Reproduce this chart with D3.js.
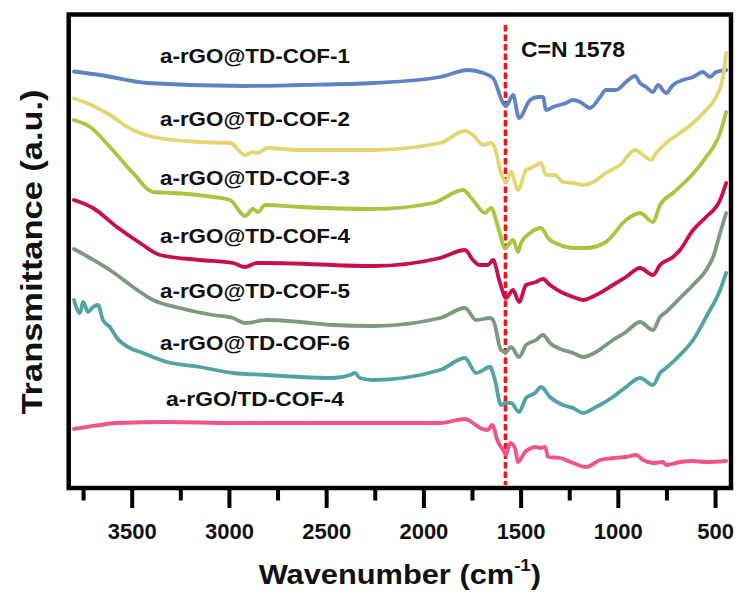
<!DOCTYPE html>
<html>
<head>
<meta charset="utf-8">
<script src="https://cdn.jsdelivr.net/npm/d3@7"></script>
<style>
  body { margin: 0; background: #fff; }
  text { font-family: Arial, "Liberation Sans", sans-serif; font-weight: bold; fill: #111; }
</style>
</head>
<body>
<svg id="chart" width="746" height="603"></svg>
<script>
'use strict';

// wavenumbers (cm-1) and transmittance (a.u., offset per curve)
const wn1 = [3797,3663,3421,2928,2634,2259,1914,1770,1693,1642,1590,1575,1539,1508,1451,1410,1385,1369,1333,1266,1230,1194,1143,1091,1061,1009,958,911,886,855,819,793,752,716,665,613,562,526,495,443];
const t1 = [83.3,82.6,81.0,80.4,80.6,81.0,82.2,83.6,83.0,82.0,77.0,76.4,78.6,74.0,77.6,78.2,78.2,75.6,76.2,77.0,77.6,77.2,76.0,78.2,79.6,79.6,81.2,82.4,81.0,80.2,79.2,80.6,79.0,80.6,81.6,82.2,83.2,82.2,83.2,83.6];

const wn2 = [3797,3731,3629,3493,3390,3149,2994,2917,2876,2850,2804,2634,2259,1914,1786,1745,1693,1652,1632,1601,1575,1549,1513,1472,1436,1395,1369,1323,1282,1230,1179,1127,1061,989,911,870,829,803,752,680,613,546,495,459,443];
const t2 = [77.9,77.0,75.0,71.6,70.2,69.2,69.0,66.6,67.2,67.0,68.0,67.6,67.6,69.0,71.4,70.6,68.6,69.0,68.0,63.0,61.2,63.2,59.6,63.6,64.2,65.0,62.6,62.6,61.2,61.0,60.6,61.2,63.0,64.6,67.6,66.6,65.6,67.0,69.0,71.0,73.0,75.6,78.2,82.2,87.0];

const wn3 = [3797,3714,3612,3493,3390,3288,3082,2994,2917,2876,2850,2814,2634,2259,1950,1796,1745,1683,1652,1616,1580,1539,1513,1498,1451,1395,1359,1297,1230,1163,1061,958,886,819,783,716,629,546,474,443];
const t3 = [73.6,72.2,68.2,63.0,59.2,59.0,58.2,57.6,54.4,55.8,55.2,56.6,56.2,55.8,57.0,59.6,57.6,55.0,56.0,52.2,48.0,49.6,47.2,49.0,51.0,52.0,50.0,48.6,48.0,48.0,49.2,53.6,55.0,53.2,56.6,59.0,62.2,66.2,71.0,75.2];

const wn4 = [3797,3699,3576,3457,3354,3149,2979,2917,2856,2804,2259,1914,1786,1745,1709,1668,1642,1606,1575,1539,1508,1472,1421,1385,1349,1282,1230,1179,1112,1025,958,886,819,783,716,680,613,546,474,443];
const t4 = [57.6,56.0,52.2,49.0,46.6,45.6,45.0,44.2,45.0,45.0,44.4,46.0,47.6,45.6,44.6,44.6,45.6,41.0,38.0,39.6,37.2,40.6,41.2,41.8,40.6,39.0,38.2,37.6,38.6,40.6,42.2,44.0,42.6,44.6,46.2,47.6,51.6,54.2,57.6,61.0];

const wn5 = [3797,3714,3612,3493,3390,3252,3082,2979,2917,2804,2634,2465,2259,1914,1786,1729,1657,1637,1601,1575,1549,1508,1472,1421,1385,1349,1282,1230,1179,1112,1025,958,886,819,783,752,680,613,546,510,474,443];
const t5 = [47.8,46.0,43.6,40.2,37.6,36.0,34.6,34.0,33.0,33.6,33.2,32.6,32.4,34.0,36.0,33.6,34.0,33.2,27.6,27.2,28.2,26.2,28.6,29.6,30.6,29.0,27.6,27.0,26.2,27.2,29.6,31.2,33.2,31.6,34.2,35.2,38.0,40.6,43.6,46.2,51.0,55.0];

const wn6 = [3797,3766,3750,3725,3699,3673,3648,3612,3576,3509,3442,3318,3149,2979,2804,2634,2465,2377,2352,2326,2259,1914,1786,1729,1657,1632,1601,1575,1549,1508,1472,1426,1395,1349,1282,1230,1179,1112,1025,958,886,819,783,752,680,613,546,474,443];
const t6 = [37.6,35.0,37.2,35.2,36.2,36.6,33.6,32.2,30.0,28.0,27.0,25.2,24.2,23.0,22.6,22.2,22.0,22.6,23.0,22.0,21.6,23.6,26.0,23.0,24.2,21.6,16.6,17.0,17.0,15.2,18.0,19.0,20.2,18.2,16.6,16.0,15.0,16.2,18.2,20.2,22.0,20.6,23.0,24.0,26.6,29.6,34.2,39.6,43.0];

const wn7 = [3797,3731,3576,3318,2979,2634,2259,1914,1786,1745,1709,1668,1647,1616,1590,1575,1554,1529,1513,1477,1421,1400,1374,1359,1297,1230,1163,1091,1025,958,906,870,819,767,752,680,613,546,443];
const t7 = [11.8,12.2,13.0,13.2,13.0,13.0,13.0,13.0,13.8,13.0,12.0,11.6,12.6,9.2,7.6,6.6,9.0,8.0,5.2,7.2,8.2,8.0,8.2,6.2,6.0,5.0,4.2,5.6,6.0,6.2,6.6,5.6,5.0,5.2,4.6,5.2,5.4,5.2,5.4];

const seriesNames = ['a-rGO@TD-COF-1','a-rGO@TD-COF-2','a-rGO@TD-COF-3','a-rGO@TD-COF-4','a-rGO@TD-COF-5','a-rGO@TD-COF-6','a-rGO/TD-COF-4'];
const seriesColors = ['#5f83c4','#e3d672','#a9c541','#c90d4f','#7e9980','#52a3a3','#f2538d'];
const labelT = [85.0, 72.4, 60.6, 49.0, 38.0, 27.6, 16.4];
const labelWn = 2866;

const majorTicks = [3500, 3000, 2500, 2000, 1500, 1000, 500];
const minorTicks = [3750, 3250, 2750, 2250, 1750, 1250, 750];
const peakWn = 1578;
const peakLabel = 'C=N 1578';

const wnList = [wn1, wn2, wn3, wn4, wn5, wn6, wn7];
const tList = [t1, t2, t3, t4, t5, t6, t7];
const series = seriesNames.map(function (name, i) {
  return {
    name: name,
    color: seriesColors[i],
    points: wnList[i].map(function (w, j) { return [w, tList[i][j]]; })
  };
});

const frame = { left: 68.7, top: 14.5, right: 731, bottom: 488 };
const svg = d3.select('#chart');

const xScale = d3.scaleLinear()
  .domain([3824, 418])
  .range([frame.left, frame.right]);

const yScale = d3.scaleLinear()
  .domain([0, 95])
  .range([frame.bottom, frame.bottom - 475]);

const line = d3.line()
  .curve(d3.curveMonotoneX)
  .x(function (d) { return xScale(d[0]); })
  .y(function (d) { return yScale(d[1]); });

// minor ticks
svg.append('g')
  .attr('transform', `translate(0, ${frame.bottom})`)
  .call(d3.axisBottom(xScale).tickValues(minorTicks).tickSize(12.5).tickFormat(''))
  .call(function (g) { g.select('.domain').remove(); })
  .selectAll('line')
  .attr('stroke', '#000')
  .attr('stroke-width', 4);

// major ticks
const xAxisG = svg.append('g')
  .attr('transform', `translate(0, ${frame.bottom})`)
  .call(d3.axisBottom(xScale).tickValues(majorTicks).tickSize(20).tickFormat(d3.format('d')));
xAxisG.select('.domain').remove();
xAxisG.selectAll('line').attr('stroke', '#000').attr('stroke-width', 4);
xAxisG.selectAll('text')
  .attr('y', 51)
  .attr('dy', 0)
  .attr('fill', '#111')
  .style('font-size', '22px')
  .style('font-family', 'Arial, "Liberation Sans", sans-serif')
  .style('font-weight', 'bold');

// peak marker
svg.append('line')
  .attr('x1', xScale(peakWn))
  .attr('x2', xScale(peakWn))
  .attr('y1', yScale(92.6))
  .attr('y2', yScale(0) - 3)
  .attr('stroke', '#f01515')
  .attr('stroke-width', 3.5)
  .attr('stroke-dasharray', '6.5,3');

// curves
svg.append('g')
  .selectAll('path')
  .data(series)
  .join('path')
  .attr('d', function (d) { return line(d.points); })
  .attr('fill', 'none')
  .attr('stroke', function (d) { return d.color; })
  .attr('stroke-width', 3.8)
  .attr('stroke-linejoin', 'round')
  .attr('stroke-linecap', 'round');

// frame
svg.append('rect')
  .attr('x', frame.left)
  .attr('y', frame.top)
  .attr('width', frame.right - frame.left)
  .attr('height', frame.bottom - frame.top)
  .attr('fill', 'none')
  .attr('stroke', '#000')
  .attr('stroke-width', 4.5);

// curve labels
svg.append('g')
  .selectAll('text')
  .data(series)
  .join('text')
  .attr('x', xScale(labelWn))
  .attr('y', function (d, i) { return yScale(labelT[i]); })
  .attr('text-anchor', 'middle')
  .attr('textLength', function (d, i) { return i === 6 ? 178 : 190; })
  .attr('lengthAdjust', 'spacingAndGlyphs')
  .style('font-size', '21px')
  .text(function (d) { return d.name; });

svg.append('text')
  .attr('x', xScale(1498))
  .attr('y', yScale(86.2))
  .attr('textLength', 104)
  .attr('lengthAdjust', 'spacingAndGlyphs')
  .style('font-size', '22px')
  .text(peakLabel);

// axis titles
const xTitle = svg.append('text')
  .attr('transform', `translate(${(frame.left + frame.right) / 2}, 584) scale(1.1, 1)`)
  .attr('text-anchor', 'middle')
  .style('font-size', '28px');
xTitle.append('tspan').text('Wavenumber (cm');
xTitle.append('tspan').attr('dy', -13).style('font-size', '17px').text('-1');
xTitle.append('tspan').attr('dy', 13).text(')');

svg.append('text')
  .attr('transform', 'translate(42, 252) rotate(-90)')
  .attr('text-anchor', 'middle')
  .attr('textLength', 325)
  .attr('lengthAdjust', 'spacingAndGlyphs')
  .style('font-size', '30px')
  .text('Transmittance (a.u.)');
</script>
</body>
</html>
